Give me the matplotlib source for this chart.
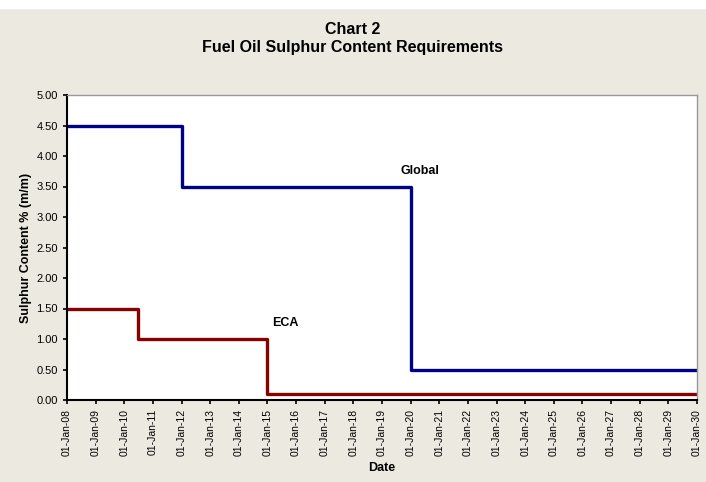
import numpy as np
import pandas as pd
import matplotlib
matplotlib.use("Agg")
import matplotlib.pyplot as plt
import matplotlib.dates as mdates

# data
global_dates = pd.to_datetime(["2008-01-01", "2012-01-01", "2020-01-01", "2030-01-01"])
global_vals = [4.5, 3.5, 0.5, 0.5]
eca_dates = pd.to_datetime(["2008-01-01", "2010-07-01", "2015-01-01", "2030-01-01"])
eca_vals = [1.5, 1.0, 0.1, 0.1]
tick_years = pd.date_range("2008-01-01", "2030-01-01", freq="YS")

plt.rcParams['font.family'] = ['Liberation Sans', 'DejaVu Sans']

bg = '#ECEAE0'
fig = plt.figure(figsize=(7.06, 4.82), dpi=100, facecolor=bg)
fig.patches.append(plt.Rectangle((0, 0.983), 1, 0.017, transform=fig.transFigure,
                                 color='white', zorder=0))
ax = fig.add_axes([67/706, 1 - 400/482, 630/706, 305/482])
ax.set_facecolor('white')

ax.step(global_dates, global_vals, where='post', color='#000088', lw=2.4)
ax.step(eca_dates, eca_vals, where='post', color='#880000', lw=2.4)

ax.text(pd.Timestamp("2020-05-01"), 3.7, "Global", fontsize=9, fontweight='bold', ha='center')
ax.text(pd.Timestamp("2015-08-15"), 1.21, "ECA", fontsize=9, fontweight='bold', ha='center')

ax.set_xlim(tick_years[0], tick_years[-1])
ax.set_ylim(0, 5)
ax.set_yticks(np.arange(0, 5.01, 0.5))
ax.yaxis.set_major_formatter(plt.FuncFormatter(lambda v, p: f"{v:.2f}"))
ax.set_xticks(tick_years)
ax.xaxis.set_major_formatter(mdates.DateFormatter('%d-%b-%y'))
plt.setp(ax.get_xticklabels(), rotation=90)
ax.tick_params(axis='both', labelsize=7.5, length=3, width=1.2, direction='out', colors='black')
ax.tick_params(axis='y', labelsize=8)

for s in ['left', 'bottom']:
    ax.spines[s].set_color('black')
    ax.spines[s].set_linewidth(1.5)
for s in ['top', 'right']:
    ax.spines[s].set_color('#999999')
    ax.spines[s].set_linewidth(1)

ax.set_xlabel("Date", fontsize=9, fontweight='bold', labelpad=4)
ax.set_ylabel("Sulphur Content % (m/m)", fontsize=9, fontweight='bold', labelpad=3)

fig.suptitle("Chart 2\nFuel Oil Sulphur Content Requirements", fontsize=11.5,
             fontweight='bold', y=0.955, linespacing=1.25)

fig.savefig("out.png", dpi=100, facecolor=bg)
